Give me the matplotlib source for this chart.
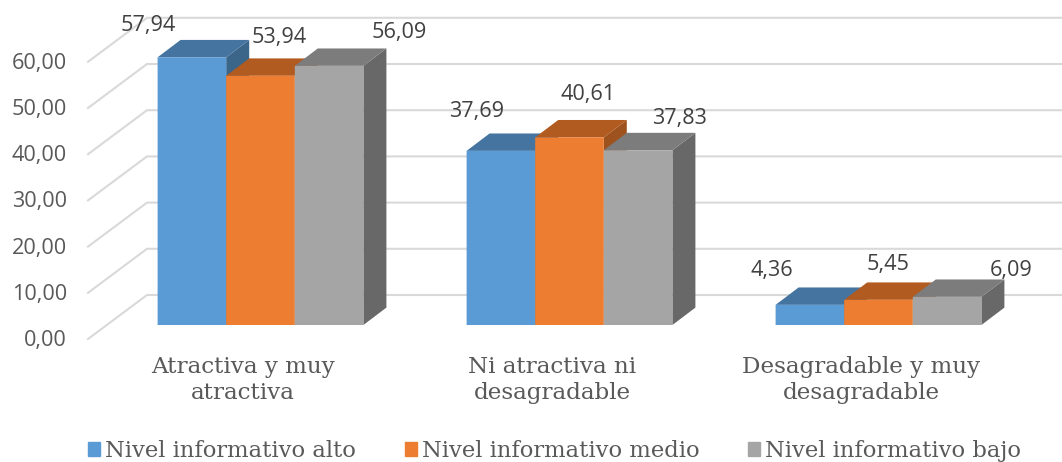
import numpy as np
import matplotlib
matplotlib.use('Agg')
import matplotlib.pyplot as plt
from matplotlib.patches import Patch

# data
categories = ['Atractiva y muy\natractiva', 'Ni atractiva ni\ndesagradable', 'Desagradable y muy\ndesagradable']
series_names = ['Nivel informativo alto', 'Nivel informativo medio', 'Nivel informativo bajo']
alto = [57.94, 37.69, 4.36]
medio = [53.94, 40.61, 5.45]
bajo = [56.09, 37.83, 6.09]
yticks = [0, 10, 20, 30, 40, 50, 60]

# styles
front_col = ['#5B9BD5', '#ED7D31', '#A5A5A5']
top_col = ['#44749F', '#B15B20', '#7C7C7C']
side_col = ['#3B6589', '#9E521D', '#686868']
text_col = '#595959'
grid_col = '#D9D9D9'
tick_font = 'Open Sans'
cat_font = 'DejaVu Serif'

# scale of the picture: pixels for one category / one unit of value
W, H = 1062, 462
px_x = 309.0
px_y = 4.62
x0_px = 260.5   # centre of first group
y0_px = 325.0   # base of bars

fig = plt.figure(figsize=(W/100, H/100), dpi=100)
ax = fig.add_axes([0, 0, 1, 1])
ax.set_xlim(-x0_px/px_x, (W-x0_px)/px_x)
ax.set_ylim(-(H-y0_px)/px_y, y0_px/px_y)
ax.axis('off')

bar_w = 68.6/px_x
dep_x = 23/px_x      # depth of bars
dep_y = 17.4/px_y

# back wall and floor lines
front_x = (88-x0_px)/px_x
back_x = (147-x0_px)/px_x
for v in yticks:
    ax.plot([front_x, back_x, ax.get_xlim()[1]], [v-14/px_y, v+30/px_y, v+30/px_y],
            color=grid_col, lw=1.5, zorder=1, solid_joinstyle='miter')
    ax.annotate(('%.2f' % v).replace('.', ','), (front_x, v-14/px_y),
                xytext=(-21, -1.5), textcoords='offset pixels', ha='right', va='center',
                fontsize=15.6, color=text_col, family=tick_font)

# manual label offsets, like the ones dragged by hand in the original
label_off = [[(-44, 32), (18.5, 38), (70, 33)],
             [(-24.5, 39), (18.5, 43), (41, 32)],
             [(-38, 34), (10, 35), (64, 26)]]

z = 2
for s, vals in enumerate([alto, medio, bajo]):
    for i, v in enumerate(vals):
        xl = i + (s-1.5)*bar_w
        xr = xl + bar_w
        ax.fill([xr, xr+dep_x, xr+dep_x, xr], [0, dep_y, v+dep_y, v], color=side_col[s], lw=0, zorder=z+i*10)
        ax.fill([xl, xl+dep_x, xr+dep_x, xr], [v, v+dep_y, v+dep_y, v], color=top_col[s], lw=0, zorder=z+i*10)
        ax.bar(i+(s-1)*bar_w, v, width=bar_w, color=front_col[s], lw=0, zorder=z+i*10+1, snap=False)
        ax.annotate(('%.2f' % v).replace('.', ','), (i+(s-1)*bar_w, v), xytext=label_off[i][s],
                    textcoords='offset pixels', ha='center', va='center', fontsize=15.6,
                    color='#404040', family=tick_font, zorder=100)
    z += 2

for i, c in enumerate(categories):
    ax.annotate(c, (i, 0), xytext=(-17.5, -55), textcoords='offset pixels', ha='center', va='center',
                fontsize=16.6, color=text_col, family=cat_font, linespacing=1.22)

handles = [Patch(color=front_col[k], label=series_names[k]) for k in range(3)]
leg = ax.legend(handles=handles, ncol=3, loc='lower left', bbox_to_anchor=(88/W, 0), frameon=False,
                prop={'family': cat_font, 'size': 16.3}, labelcolor=text_col, handlelength=0.53,
                handleheight=0.53, handletextpad=0.22, columnspacing=2.15, borderaxespad=0, borderpad=0)

fig.savefig('out.png', dpi=100)
